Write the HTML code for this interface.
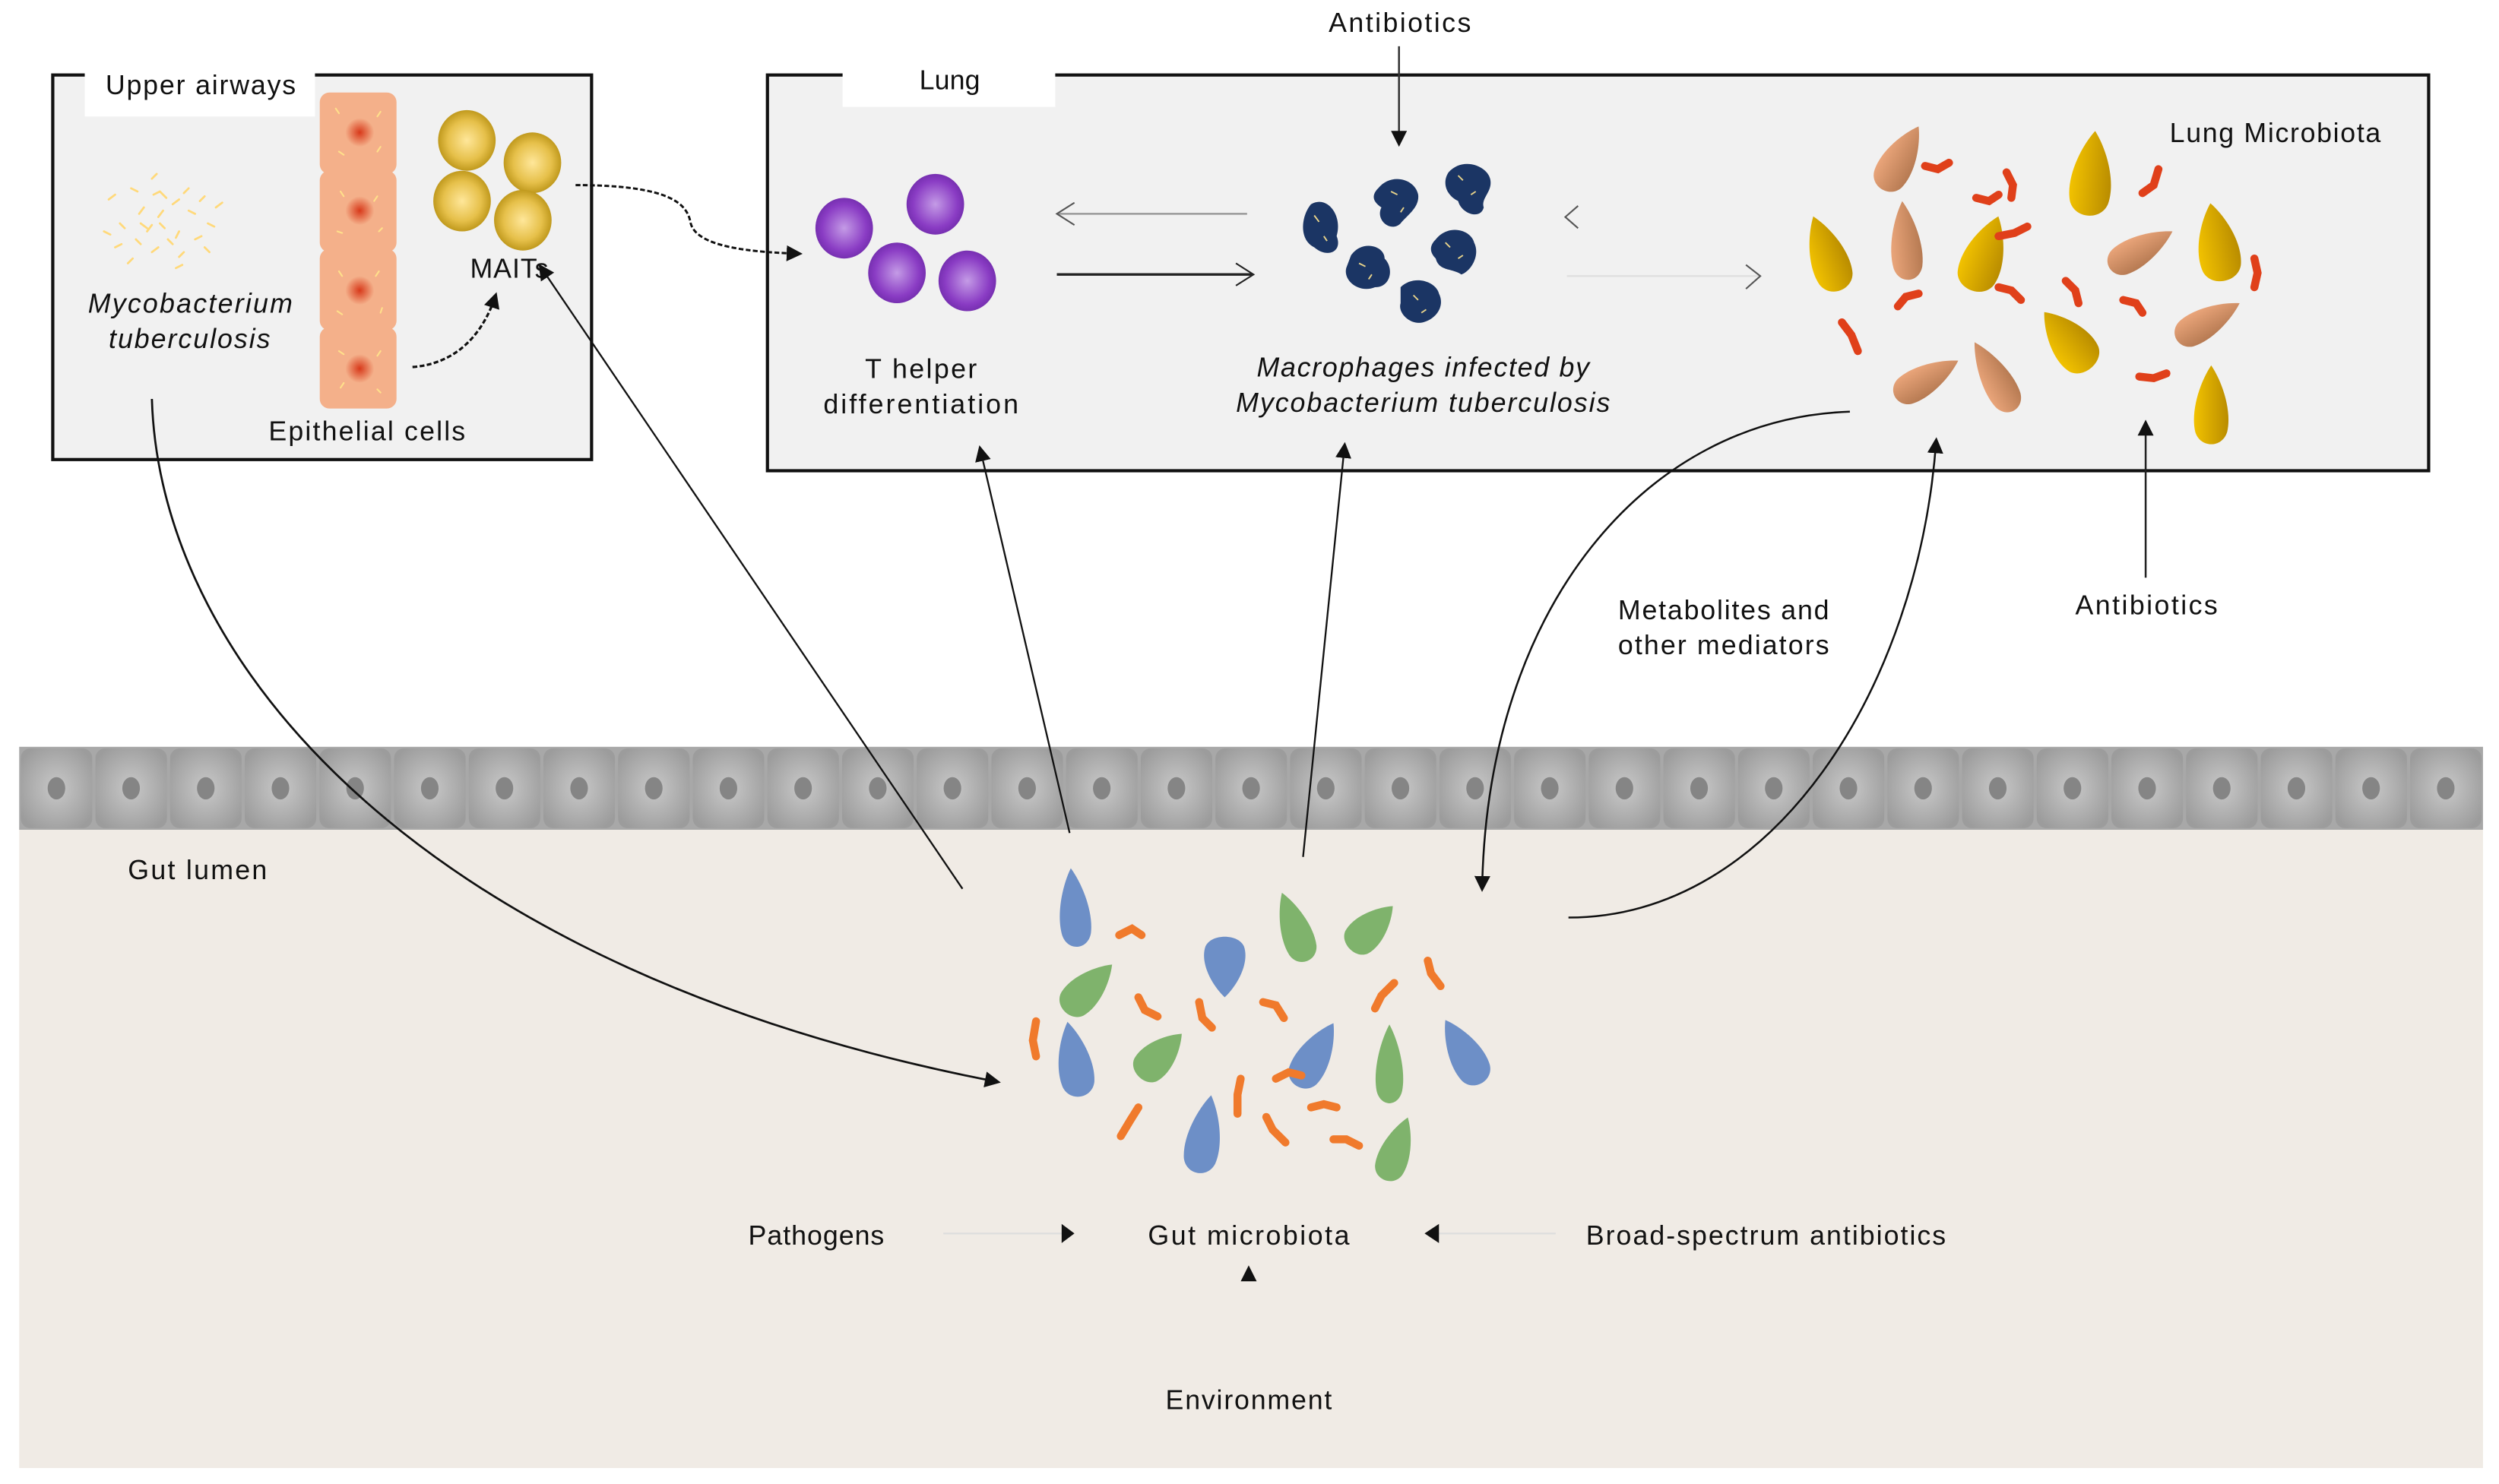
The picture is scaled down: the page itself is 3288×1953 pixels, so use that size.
<!DOCTYPE html>
<html><head><meta charset="utf-8"><style>
html,body{margin:0;padding:0;background:#fff;}
svg{display:block;}
text{font-family:"Liberation Sans",sans-serif;font-size:17px;fill:#111;}
</style></head><body>
<svg width="3288" height="1953" viewBox="0 0 1563 930" preserveAspectRatio="none" xmlns="http://www.w3.org/2000/svg">
<defs>
<radialGradient id="gy" cx="50%" cy="50%" r="55%"><stop offset="0" stop-color="#ffe79a"/><stop offset="0.6" stop-color="#e6c04a"/><stop offset="1" stop-color="#b58e10"/></radialGradient>
<radialGradient id="pu" cx="50%" cy="50%" r="55%"><stop offset="0" stop-color="#c49be6"/><stop offset="0.7" stop-color="#8a3cc4"/><stop offset="1" stop-color="#6e2aa8"/></radialGradient>
<radialGradient id="cell" cx="50%" cy="50%" r="60%"><stop offset="0" stop-color="#c8c8c8"/><stop offset="1" stop-color="#9c9c9c"/></radialGradient>
<radialGradient id="nuc" cx="50%" cy="50%" r="50%"><stop offset="0" stop-color="#d8391a"/><stop offset="1" stop-color="#f4b08a"/></radialGradient>
<linearGradient id="yel" x1="0" y1="0" x2="1" y2="0"><stop offset="0" stop-color="#f2c200"/><stop offset="1" stop-color="#b98c00"/></linearGradient>
<linearGradient id="tan" x1="0" y1="0" x2="1" y2="0"><stop offset="0" stop-color="#eaa57a"/><stop offset="1" stop-color="#b67a52"/></linearGradient>
<path id="td" d="M0,-20 C7,-12 13,2 10,12 C7,20 -7,20 -10,12 C-13,2 -7,-12 0,-20Z"/>
<marker id="ah" markerWidth="10" markerHeight="10" refX="8" refY="5" orient="auto" markerUnits="userSpaceOnUse"><path d="M0,0 L10,5 L0,10Z" fill="#111"/></marker>
</defs>

<!-- gut area -->
<rect x="12" y="518" width="1541" height="402" fill="#f0ebe5"/>
<g>
<rect x="12" y="468" width="1541" height="52" fill="#a8a8a8"/>
</g>
<g id="cells"></g>

<!-- Upper airways box -->
<rect x="33" y="47" width="337" height="241" fill="#f1f1f1" stroke="#111" stroke-width="2"/>
<rect x="53" y="40" width="144" height="33" fill="#fff"/>
<text x="66" y="59" textLength="119">Upper airways</text>

<!-- Mtb cluster -->
<g stroke="#ffd97a" stroke-width="1.3" stroke-linecap="round">
<path d="M68,125 l4,-3 M75,140 l3,3 M82,118 l4,2 M90,130 l-3,4 M96,122 l4,-2 M100,140 l3,3 M108,128 l4,-3 M112,145 l-2,4 M118,132 l4,2 M125,126 l3,-3 M130,140 l4,2 M72,155 l4,-2 M85,150 l3,3 M95,158 l4,-3 M105,150 l3,3 M115,158 l-3,3 M122,150 l4,-2 M88,140 l4,3 M102,132 l-3,4 M80,165 l3,-3 M110,168 l4,-2 M95,112 l3,-3 M135,130 l4,-3 M128,155 l3,3 M65,145 l4,2 M100,120 l4,4 M92,145 l3,-4 M118,118 l-3,3"/>
</g>
<text x="55" y="196" font-style="italic" textLength="128">Mycobacterium</text>
<text x="68" y="218" font-style="italic" textLength="101">tuberculosis</text>

<!-- epithelial cells column -->
<g fill="#f4b08a">
<rect x="200" y="58" width="48" height="51" rx="6"/>
<rect x="200" y="107" width="48" height="51" rx="6"/>
<rect x="200" y="156" width="48" height="51" rx="6"/>
<rect x="200" y="205" width="48" height="51" rx="6"/>
</g>
<g fill="url(#nuc)">
<circle cx="225" cy="83" r="9"/><circle cx="225" cy="132" r="9"/><circle cx="225" cy="182" r="9"/><circle cx="225" cy="231" r="9"/>
</g>
<g stroke="#ffe08a" stroke-width="1" stroke-linecap="round">
<path d="M210,68 l2,3 M238,70 l-2,3 M212,95 l3,2 M236,95 l2,-3 M213,120 l2,3 M236,123 l-2,3 M211,145 l3,1 M237,145 l2,-2 M212,170 l2,3 M237,170 l-2,3 M211,195 l3,2 M238,196 l1,-3 M212,220 l3,2 M238,220 l-2,3 M213,243 l2,-3 M236,244 l2,2"/>
</g>
<text x="168" y="276" textLength="123">Epithelial cells</text>

<!-- MAITs -->
<g fill="url(#gy)">
<ellipse cx="292" cy="88" rx="18" ry="19"/><ellipse cx="333" cy="102" rx="18" ry="19"/><ellipse cx="289" cy="126" rx="18" ry="19"/><ellipse cx="327" cy="138" rx="18" ry="19"/>
</g>
<text x="294" y="174" textLength="49">MAITs</text>
<path d="M258,230 C285,228 302,210 310,185" fill="none" stroke="#111" stroke-width="1.5" stroke-dasharray="3,1.5" marker-end="url(#ah)"/>

<!-- Lung box -->
<rect x="480" y="47" width="1039" height="248" fill="#f1f1f1" stroke="#111" stroke-width="2"/>
<rect x="527" y="40" width="133" height="27" fill="#fff"/>
<text x="575" y="56" textLength="38">Lung</text>
<text x="1357" y="89" textLength="132">Lung Microbiota</text>

<!-- MAITs -> T helper dashed -->
<path d="M360,116 C420,116 430,128 432,140 C436,155 470,158 500,159" fill="none" stroke="#111" stroke-width="1.4" stroke-dasharray="3,1.5" marker-end="url(#ah)"/>

<!-- T helper -->
<g fill="url(#pu)">
<ellipse cx="528" cy="143" rx="18" ry="19"/><ellipse cx="585" cy="128" rx="18" ry="19"/><ellipse cx="561" cy="171" rx="18" ry="19"/><ellipse cx="605" cy="176" rx="18" ry="19"/>
</g>
<text x="541" y="237" textLength="70">T helper</text>
<text x="515" y="259" textLength="122">differentiation</text>

<!-- lung arrows -->
<path d="M780,134 L662,134" stroke="#999" stroke-width="1.2"/><path d="M672,127 L661,134 L672,141" fill="none" stroke="#555" stroke-width="1"/>
<path d="M661,172 L783,172" stroke="#222" stroke-width="1.6"/><path d="M773,165 L784,172 L773,179" fill="none" stroke="#222" stroke-width="1"/>
<path d="M987,129 L979,136 L987,143" fill="none" stroke="#555" stroke-width="1"/>
<path d="M980,173 L1100,173" stroke="#ddd" stroke-width="1"/><path d="M1092,166 L1101,173 L1092,181" fill="none" stroke="#555" stroke-width="1"/>

<!-- Antibiotics top -->
<text x="831" y="20" textLength="89">Antibiotics</text>
<path d="M875,29 L875,90" stroke="#333" stroke-width="1.2" marker-end="url(#ah)"/>

<!-- Macrophages -->
<g fill="#1b3564">
<path d="M820,128 C830,122 840,135 836,148 C840,158 830,162 822,155 C812,150 814,135 820,128Z"/>
<path d="M862,118 C870,108 885,112 887,122 C888,130 880,135 876,140 C870,146 860,138 864,130 C858,126 858,122 862,118Z"/>
<path d="M906,108 C915,98 930,104 932,112 C934,120 926,124 928,130 C926,138 914,134 912,126 C904,122 902,114 906,108Z"/>
<path d="M845,160 C852,150 866,154 866,162 C872,168 870,180 860,180 C850,184 840,176 842,168Z"/>
<path d="M898,150 C906,140 920,144 922,152 C926,160 920,170 914,172 C908,168 900,170 898,162 C894,158 894,154 898,150Z"/>
<path d="M876,180 C884,172 898,176 900,184 C904,192 898,200 890,202 C882,204 874,196 876,190Z"/>
</g>
<g stroke="#e9d48a" stroke-width="0.9">
<path d="M822,135 l3,4 M828,148 l2,3 M870,120 l4,2 M878,130 l-2,3 M912,110 l3,3 M920,122 l3,-2 M850,165 l4,2 M858,172 l-2,3 M904,152 l3,3 M912,162 l3,-2 M884,185 l3,3 M892,194 l-3,2"/>
</g>
<text x="786" y="236" font-style="italic" textLength="208">Macrophages infected by</text>
<text x="773" y="258" font-style="italic" textLength="234">Mycobacterium tuberculosis</text>

<!-- Lung microbiota shapes -->
<g fill="url(#yel)">
<use href="#td" transform="translate(1143,160) rotate(-20) scale(1.1,1.3)"/>
<use href="#td" transform="translate(1241,160) rotate(20) scale(1.2,1.3)"/>
<use href="#td" transform="translate(1308,110) rotate(5) scale(1.2,1.4)"/>
<use href="#td" transform="translate(1387,153) rotate(-10) scale(1.2,1.3)"/>
<use href="#td" transform="translate(1294,214) rotate(-40) scale(1.2,1.2)"/>
<use href="#td" transform="translate(1383,255) rotate(0) scale(1,1.3)"/>
</g>
<g fill="url(#tan)">
<use href="#td" transform="translate(1188,100) rotate(30) scale(1,1.2)"/>
<use href="#td" transform="translate(1192,152) rotate(-5) scale(0.9,1.3)"/>
<use href="#td" transform="translate(1204,238) rotate(60) scale(0.9,1.2)"/>
<use href="#td" transform="translate(1248,237) rotate(-30) scale(0.9,1.3)"/>
<use href="#td" transform="translate(1338,157) rotate(60) scale(0.9,1.2)"/>
<use href="#td" transform="translate(1380,202) rotate(60) scale(0.9,1.2)"/>
</g>
<g fill="none" stroke="#e0401a" stroke-width="5" stroke-linecap="round">
<path d="M1204,104 l8,2 l7,-4"/><path d="M1236,124 l8,2 l6,-4"/><path d="M1255,108 l4,8 l-1,8"/><path d="M1350,106 l-3,10 l-7,5"/>
<path d="M1250,148 l10,-2 l8,-4"/><path d="M1292,176 l6,6 l2,8"/><path d="M1328,188 l8,2 l4,6"/><path d="M1410,162 l2,9 l-2,9"/>
<path d="M1152,202 l6,8 l4,10"/><path d="M1187,192 l5,-6 l8,-2"/><path d="M1250,180 l8,2 l6,6"/><path d="M1338,236 l9,1 l8,-3"/>
</g>

<!-- Antibiotics right -->
<text x="1298" y="385" textLength="89">Antibiotics</text>
<path d="M1342,362 L1342,265" stroke="#222" stroke-width="1.2" marker-end="url(#ah)"/>

<text x="1012" y="388" textLength="132">Metabolites and</text>
<text x="1012" y="410" textLength="132">other mediators</text>

<!-- gut epithelium cells -->
<g id="gcells"></g>

<!-- Gut microbiota -->
<g fill="#6d8fc7">
<use href="#td" transform="translate(672,570) rotate(-5) scale(0.9,1.3)"/>
<use href="#td" transform="translate(766,605) rotate(180) scale(1.2,1)"/>
<use href="#td" transform="translate(672,665) rotate(-10) scale(1,1.25)"/>
<use href="#td" transform="translate(822,662) rotate(30) scale(1,1.2)"/>
<use href="#td" transform="translate(916,660) rotate(-30) scale(1,1.2)"/>
<use href="#td" transform="translate(753,712) rotate(10) scale(1,1.3)"/>
</g>
<g fill="#7fb36c">
<use href="#td" transform="translate(810,582) rotate(-20) scale(0.9,1.2)"/>
<use href="#td" transform="translate(857,582) rotate(45) scale(1,1)"/>
<use href="#td" transform="translate(680,620) rotate(45) scale(1,1.1)"/>
<use href="#td" transform="translate(725,662) rotate(45) scale(1,1)"/>
<use href="#td" transform="translate(869,668) rotate(0) scale(0.8,1.3)"/>
<use href="#td" transform="translate(873,721) rotate(20) scale(0.9,1.1)"/>
</g>
<g fill="none" stroke="#f07a2c" stroke-width="5" stroke-linecap="round">
<path d="M700,586 l8,-4 l6,4"/><path d="M712,625 l4,8 l8,4"/><path d="M750,628 l2,10 l6,6"/><path d="M790,628 l8,2 l5,8"/>
<path d="M872,616 l-8,8 l-4,8"/><path d="M893,602 l2,8 l6,8"/><path d="M648,640 l-2,12 l2,10"/><path d="M776,676 l-2,10 l0,12"/>
<path d="M798,676 l8,-4 l8,2"/><path d="M820,694 l8,-2 l8,2"/><path d="M712,694 l-5,8 l-6,10"/><path d="M792,700 l4,8 l8,8"/><path d="M834,714 l8,0 l8,4"/>
</g>

<!-- Long arrows -->
<path d="M95,250 C100,420 270,610 624,678" fill="none" stroke="#111" stroke-width="1.3" marker-end="url(#ah)"/>
<path d="M602,557 L338,167" fill="none" stroke="#111" stroke-width="1.1" marker-end="url(#ah)"/>
<path d="M669,522 L613,281" fill="none" stroke="#111" stroke-width="1.1" marker-end="url(#ah)"/>
<path d="M815,537 L841,279" fill="none" stroke="#111" stroke-width="1.1" marker-end="url(#ah)"/>
<path d="M1157,258 C1030,262 930,380 927,557" fill="none" stroke="#111" stroke-width="1.2" marker-end="url(#ah)"/>
<path d="M981,575 C1110,575 1200,430 1211,276" fill="none" stroke="#111" stroke-width="1.2" marker-end="url(#ah)"/>

<text x="80" y="551" textLength="87">Gut lumen</text>
<text x="468" y="780" textLength="85">Pathogens</text>
<path d="M590,773 L664,773" stroke="#ddd" stroke-width="1"/><path d="M664,767 L672,773 L664,779Z" fill="#111"/>
<text x="718" y="780" textLength="126">Gut microbiota</text>
<path d="M973,773 L900,773" stroke="#ddd" stroke-width="1"/><path d="M900,767 L891,773 L900,779Z" fill="#111"/>
<text x="992" y="780" textLength="225">Broad-spectrum antibiotics</text>
<path d="M776,803 L781,793 L786,803Z" fill="#111"/>
<text x="729" y="883" textLength="104">Environment</text>

<!-- epithelium drawn last behind arrows? redraw cells -->
</svg>
<script>
(function(){
 var ns="http://www.w3.org/2000/svg",svg=document.querySelector('svg');
 var g=document.getElementById('cells');
 for(var i=0;i<33;i++){
  var x=12+i*46.7;
  var r=document.createElementNS(ns,'rect');
  r.setAttribute('x',x+1);r.setAttribute('y',469);r.setAttribute('width',44.7);r.setAttribute('height',50);r.setAttribute('rx',6);r.setAttribute('fill','url(#cell)');
  g.appendChild(r);
  var e=document.createElementNS(ns,'ellipse');
  e.setAttribute('cx',x+23.3);e.setAttribute('cy',494);e.setAttribute('rx',5.5);e.setAttribute('ry',7);e.setAttribute('fill','#858585');
  g.appendChild(e);
 }
})();
</script>
</body></html>
